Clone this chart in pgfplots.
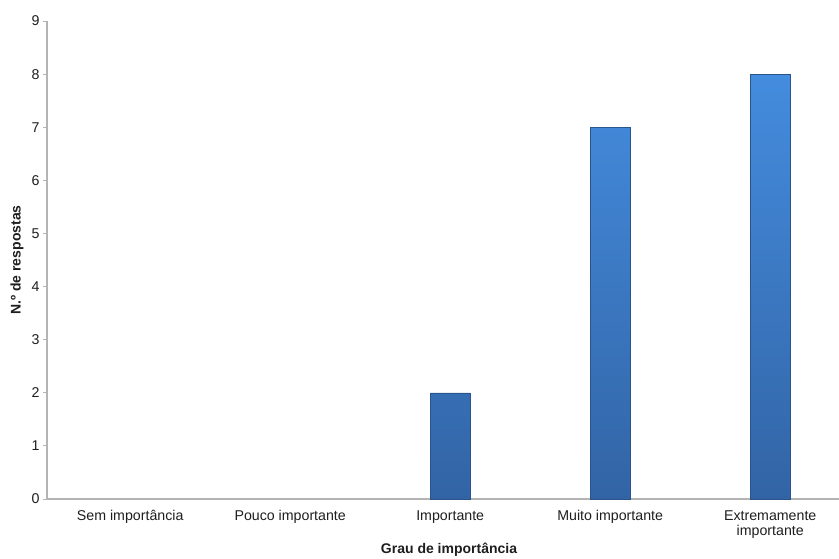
\documentclass[border=0pt]{standalone}
\usepackage{pgfplots}
\pgfplotsset{compat=1.18}
\usepackage{fontspec}
\setmainfont{Liberation Sans}
\definecolor{axgray}{RGB}{180,180,180}
\definecolor{bartop}{RGB}{68,140,222}
\definecolor{barbot}{RGB}{50,100,165}
\definecolor{txt}{RGB}{30,30,30}
\begin{document}
\begin{tikzpicture}
\path[use as bounding box] (-47pt,-59pt) rectangle (792pt,499pt);
\begin{axis}[
  at={(0,0)}, anchor=south west,
  scale only axis, width=792pt, height=478pt,
  xmin=-0.52, xmax=4.43, ymin=0, ymax=9,
  axis x line*=bottom, axis y line*=left,
  axis line style={axgray, line width=1.2pt, -},
  ytick={0,...,9},
  xtick={0,1,2,3,4},
  xticklabels={Sem importância, Pouco importante, Importante, Muito importante, Extremamente\\importante},
  x tick style={draw=none},
  y tick style={axgray, line width=1pt},
  tick align=outside, major tick length=4pt,
  xticklabel style={align=center, font=\fontsize{14.2}{15}\selectfont, text=txt, yshift=-4pt},
  yticklabel style={font=\fontsize{14.2}{15}\selectfont, text=txt, xshift=0pt},
  /pgf/number format/assume math mode=true,
  xlabel={Grau de importância},
  ylabel={N.º de respostas},
  xlabel style={font=\bfseries\fontsize{14}{15}\selectfont, text=txt, at={(axis description cs:0.5076,0)}, anchor=center, yshift=-51pt},
  ylabel style={font=\bfseries\fontsize{14}{15}\selectfont, text=txt, at={(axis description cs:0,0.5)}, anchor=center, yshift=30pt},
  clip=false,
]
\addplot[ybar, bar width=40pt, draw=barbot!85!black, line width=0.4pt, top color=bartop, bottom color=barbot]
  coordinates {(2,2) (3,7) (4,8)};
\end{axis}
\end{tikzpicture}
\end{document}
